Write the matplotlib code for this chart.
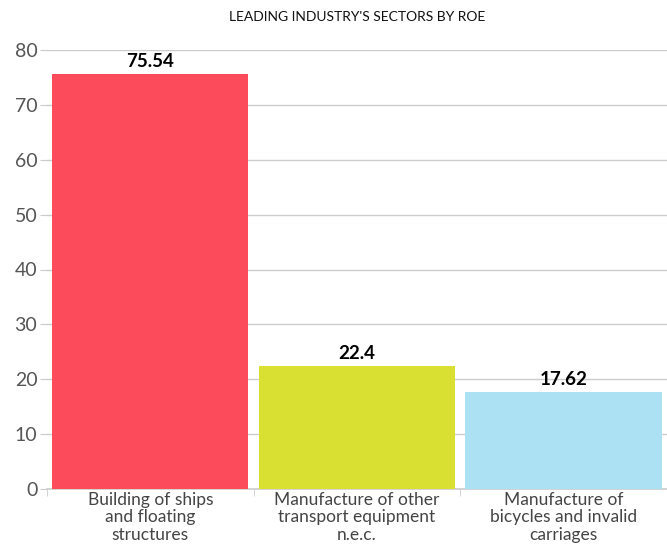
import matplotlib
matplotlib.use("Agg")
import matplotlib.pyplot as plt
import numpy as np

categories = ["Building of ships\nand floating\nstructures",
              "Manufacture of other\ntransport equipment\nn.e.c.",
              "Manufacture of\nbicycles and invalid\ncarriages"]
values = [75.54, 22.4, 17.62]
value_labels = ["75.54", "22.4", "17.62"]
colors = ["#FC4C5C", "#D9E031", "#ACE0F3"]
yticks = [0, 10, 20, 30, 40, 50, 60, 70, 80]

plt.rcParams['font.family'] = ['Lato', 'DejaVu Sans']

fig = plt.figure(figsize=(6.67, 5.46), dpi=100)
ax = fig.add_axes([47/667, 1-489/546, 620/667, 439/546])

x = np.arange(len(values))
ax.bar(x, values, width=0.95, color=colors, zorder=3)
for xi, v, lab in zip(x, values, value_labels):
    ax.text(xi, v + 0.8, lab, ha='center', va='bottom', fontsize=13.5,
            fontweight='bold', color='black', zorder=4)

ax.set_xlim(-0.5, len(values) - 0.5)
ax.set_ylim(0, 80)
ax.set_yticks(yticks)
ax.set_yticklabels([str(t) for t in yticks], fontsize=14, color='#555555')
ax.yaxis.grid(True, color='#cccccc', linewidth=1, zorder=0)
ax.tick_params(axis='y', length=5, color='#cccccc', pad=2)

ax.set_xticks(x)
ax.set_xticklabels(categories, fontsize=12.5, color='#444444', linespacing=1.12,
                   multialignment='center')
ax.tick_params(axis='x', length=0, pad=2)
ax.set_xticks([-0.5, 0.5, 1.5, 2.5], minor=True)
ax.tick_params(axis='x', which='minor', length=5, color='#cccccc')

for s in ['top', 'right', 'left']:
    ax.spines[s].set_visible(False)
ax.spines['bottom'].set_color('#cccccc')
ax.spines['bottom'].set_linewidth(1.2)

fig.text(357/667, 1-17/546, "LEADING INDUSTRY'S SECTORS BY ROE", ha='center',
         va='center', fontsize=10, color='#111111')

fig.savefig("out.png", dpi=100)
